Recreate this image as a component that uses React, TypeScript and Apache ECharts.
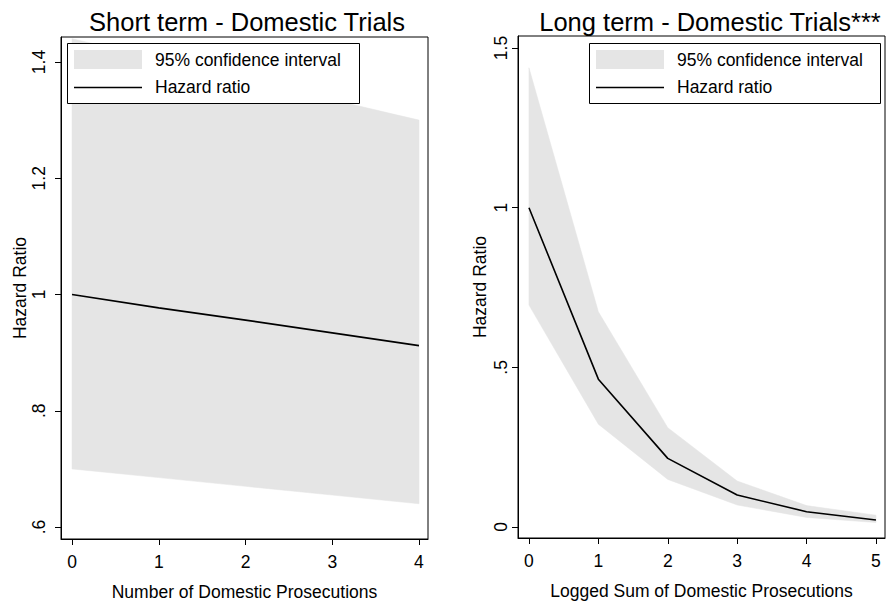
import React, { useEffect, useRef } from "react";
import * as echarts from "echarts";

// ---- data ----
const leftX = [0, 1, 2, 3, 4];
const leftHR = [1.0, 0.977, 0.956, 0.934, 0.912];
const leftUpper = [1.44, 1.405, 1.37, 1.335, 1.3];
const leftLower = [0.7, 0.685, 0.67, 0.655, 0.64];

const rightX = [0, 1, 2, 3, 4, 5];
const rightHR = [1.0, 0.463, 0.215, 0.1, 0.048, 0.022];
const rightUpper = [1.438, 0.674, 0.311, 0.144, 0.067, 0.037];
const rightLower = [0.695, 0.322, 0.149, 0.069, 0.03, 0.014];

const leftXTicks = [0, 1, 2, 3, 4];
const leftYTicks = [0.6, 0.8, 1, 1.2, 1.4];
const rightXTicks = [0, 1, 2, 3, 4, 5];
const rightYTicks = [0, 0.5, 1, 1.5];

const titles = ["Short term - Domestic Trials", "Long term - Domestic Trials***"];
const xNames = ["Number of Domestic Prosecutions", "Logged Sum of Domestic Prosecutions"];
const yName = "Hazard Ratio";
const legendLabels = ["95% confidence interval", "Hazard ratio"];

const FONT = "'Liberation Sans', Arial, Helvetica, sans-serif";
const BAND = "#e5e5e5";

const fmt = (v: number) => {
  const s = String(Math.round(v * 1000) / 1000);
  return s.replace(/^0\./, ".");
};

function bandSeries(idx: number, xs: number[], lo: number[], up: number[]) {
  return {
    type: "custom",
    xAxisIndex: idx,
    yAxisIndex: idx,
    silent: true,
    data: xs.map((x, i) => [x, lo[i], up[i]]),
    encode: { x: 0, y: [1, 2] },
    renderItem: (params: any, api: any) => {
      if (params.dataIndex !== 0) return null;
      const pts: number[][] = [];
      for (let i = 0; i < xs.length; i++) pts.push(api.coord([xs[i], up[i]]));
      for (let i = xs.length - 1; i >= 0; i--) pts.push(api.coord([xs[i], lo[i]]));
      return {
        type: "polygon",
        shape: { points: pts },
        style: { fill: BAND, stroke: BAND, lineWidth: 0.5 },
      };
    },
    z: 1,
  };
}

function lineSeries(idx: number, xs: number[], ys: number[]) {
  return {
    type: "line",
    xAxisIndex: idx,
    yAxisIndex: idx,
    data: xs.map((x, i) => [x, ys[i]]),
    symbol: "none",
    silent: true,
    lineStyle: { color: "#000", width: 1.6 },
    z: 3,
  };
}

function legendGroup(x: number, y: number, w: number) {
  return {
    type: "group",
    z: 100,
    children: [
      {
        type: "rect",
        z: 100,
        shape: { x: x + 0.5, y: y + 0.5, width: w, height: 60 },
        style: { fill: "#fff", stroke: "#000", lineWidth: 1 },
      },
      {
        type: "rect",
        z: 101,
        shape: { x: x + 7, y: y + 7, width: 68, height: 19 },
        style: { fill: BAND },
      },
      {
        type: "line",
        z: 101,
        shape: { x1: x + 7, y1: y + 44.5, x2: x + 75, y2: y + 44.5 },
        style: { stroke: "#000", lineWidth: 1.6 },
      },
      {
        type: "text",
        z: 101,
        x: x + 88,
        y: y + 17,
        style: { text: legendLabels[0], fill: "#000", font: `17.5px ${FONT}`, verticalAlign: "middle" },
      },
      {
        type: "text",
        z: 101,
        x: x + 88,
        y: y + 44,
        style: { text: legendLabels[1], fill: "#000", font: `17.5px ${FONT}`, verticalAlign: "middle" },
      },
    ],
  };
}

function xAxis(idx: number, min: number, max: number, ticks: number[], name: string) {
  return {
    type: "value",
    gridIndex: idx,
    min,
    max,
    name,
    nameLocation: "middle",
    nameGap: 44,
    nameTextStyle: { color: "#000", fontSize: 17.5, fontFamily: FONT },
    axisLine: { show: true, onZero: false, lineStyle: { color: "#000", width: 1 } },
    axisTick: { show: true, length: 6, customValues: ticks, lineStyle: { color: "#000" } },
    axisLabel: { customValues: ticks, margin: 14, color: "#000", fontSize: 17.5, fontFamily: FONT, formatter: fmt },
    splitLine: { show: false },
  };
}

function yAxis(idx: number, min: number, max: number, ticks: number[], margin: number, gap: number) {
  return {
    type: "value",
    gridIndex: idx,
    min,
    max,
    name: yName,
    nameLocation: "middle",
    nameGap: gap,
    nameRotate: 90,
    nameTextStyle: { color: "#000", fontSize: 17.5, fontFamily: FONT },
    axisLine: { show: true, onZero: false, lineStyle: { color: "#000", width: 1 } },
    axisTick: { show: true, length: 6, customValues: ticks, lineStyle: { color: "#000" } },
    axisLabel: {
      customValues: ticks,
      rotate: 90,
      margin,
      color: "#000",
      fontSize: 17.5,
      fontFamily: FONT,
      formatter: fmt,
    },
    splitLine: { show: false },
  };
}

export default function App() {
  const ref = useRef<HTMLDivElement>(null);
  useEffect(() => {
    document.body.style.margin = "0";
    const chart = echarts.init(ref.current!, null, { renderer: "svg" });
    chart.setOption({
      animation: false,
      backgroundColor: "#fff",
      title: [
        {
          text: titles[0],
          left: 242,
          top: 4,
          textAlign: "center",
          textStyle: { color: "#000", fontSize: 25.5, fontWeight: "normal", fontFamily: FONT },
        },
        {
          text: titles[1],
          left: 705,
          top: 4,
          textAlign: "center",
          textStyle: { color: "#000", fontSize: 25.5, fontWeight: "normal", fontFamily: FONT },
        },
      ],
      grid: [
        { left: 61, top: 37, width: 367, height: 502, show: true, borderColor: "#000", borderWidth: 1, backgroundColor: "transparent" },
        { left: 518, top: 36, width: 367, height: 502, show: true, borderColor: "#000", borderWidth: 1, backgroundColor: "transparent" },
      ],
      xAxis: [
        xAxis(0, -0.127, 4.104, leftXTicks, xNames[0]),
        xAxis(1, -0.158, 5.13, rightXTicks, xNames[1]),
      ],
      yAxis: [
        yAxis(0, 0.5794, 1.443, leftYTicks, 13.5, 30),
        yAxis(1, -0.0344, 1.5376, rightYTicks, 8, 29),
      ],
      series: [
        bandSeries(0, leftX, leftLower, leftUpper),
        lineSeries(0, leftX, leftHR),
        bandSeries(1, rightX, rightLower, rightUpper),
        lineSeries(1, rightX, rightHR),
      ],
      graphic: [legendGroup(67, 43, 292), legendGroup(589, 43, 291)],
    });
    return () => chart.dispose();
  }, []);
  return <div ref={ref} style={{ width: 886, height: 608 }} />;
}
